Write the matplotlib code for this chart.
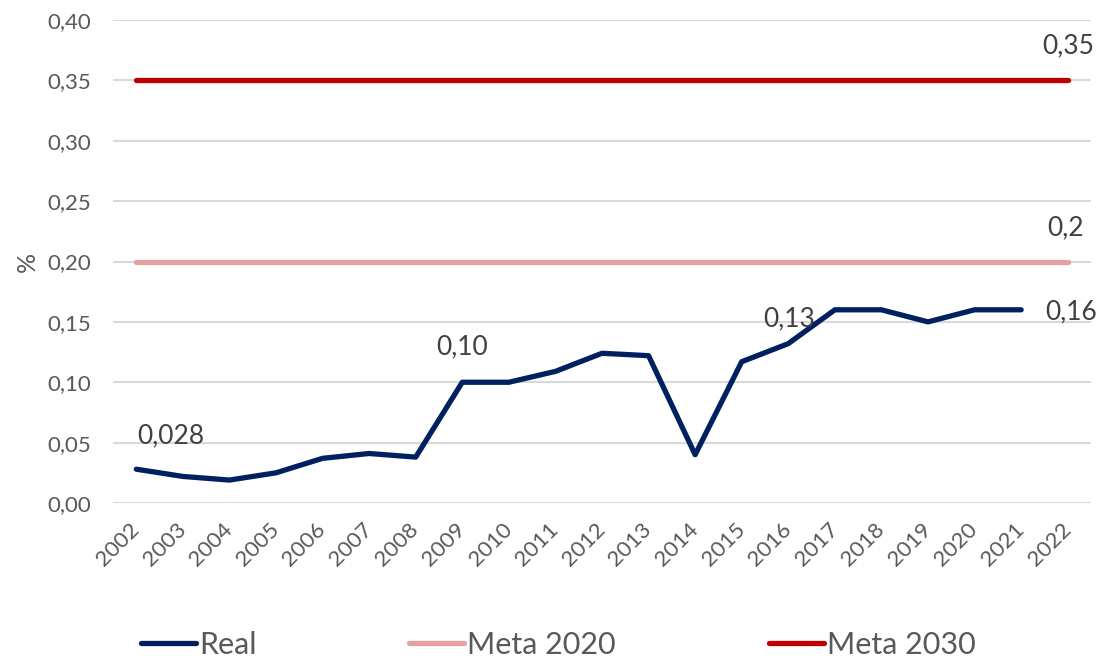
import matplotlib
matplotlib.use("Agg")
import matplotlib.pyplot as plt
import numpy as np

plt.rcParams['font.family'] = ['Lato', 'DejaVu Sans']

years = [str(y) for y in range(2002, 2023)]
real = [0.028, 0.022, 0.019, 0.025, 0.037, 0.041, 0.038, 0.100, 0.100, 0.109,
        0.124, 0.122, 0.040, 0.117, 0.132, 0.160, 0.160, 0.150, 0.160, 0.160, np.nan]
meta2020 = [0.20] * 21
meta2030 = [0.35] * 21
yticks = [0.00, 0.05, 0.10, 0.15, 0.20, 0.25, 0.30, 0.35, 0.40]
ytick_labels = ['0,00', '0,05', '0,10', '0,15', '0,20', '0,25', '0,30', '0,35', '0,40']

fig = plt.figure(figsize=(11.05, 6.62), dpi=100)
ax = fig.add_axes([113/1105, 1 - 503/662, (1091 - 113)/1105, (503 - 20)/662])

x = np.arange(len(years))
ax.plot(x, real, color='#002060', lw=3.8, solid_capstyle='round', solid_joinstyle='round', label='Real', zorder=4)
ax.plot(x, meta2020, color='#E6A0A0', lw=3.8, solid_capstyle='round', label='Meta 2020', zorder=3)
ax.plot(x, meta2030, color='#C00000', lw=3.8, solid_capstyle='round', label='Meta 2030', zorder=3)

ax.set_xlim(-0.5, len(years) - 0.5)
ax.set_ylim(0, 0.40)
ax.set_yticks(yticks)
ax.set_yticklabels(ytick_labels)
ax.set_xticks(x)
ax.set_xticklabels(years, rotation=45, ha='right', va='center', rotation_mode='anchor')
ax.grid(axis='y', color='#D9D9D9', lw=1.5)
ax.set_axisbelow(True)
for s in ax.spines.values():
    s.set_visible(False)
ax.tick_params(axis='both', length=0, colors='#595959', labelsize=16)
ax.tick_params(axis='y', pad=16)
ax.tick_params(axis='x', pad=17)
ax.set_ylabel('%', fontsize=18, color='#595959', labelpad=6)

lab_color = '#404040'
def lab(i, val, text, dx, dy, ha='center'):
    ax.annotate(text, (i, val), xytext=(dx, dy), textcoords='offset pixels',
                ha=ha, va='center', fontsize=19, color=lab_color, zorder=5)

lab(0, real[0], '0,028', 35, 33)
lab(7, real[7], '0,10', 0, 35)
lab(14, real[14], '0,13', 1, 25)
lab(19, real[19], '0,16', 24, -2, ha='left')
lab(20, meta2030[20], '0,35', 0, 35)
lab(20, meta2020[20], '0,2', -2, 34)

leg = fig.legend(loc='center', bbox_to_anchor=(0.505, 1 - 645/662), ncol=3, frameon=False,
                 fontsize=22, handlelength=1.8, handletextpad=0.1, columnspacing=5.0,
                 labelcolor='#595959')

fig.savefig('out.png', dpi=100)
